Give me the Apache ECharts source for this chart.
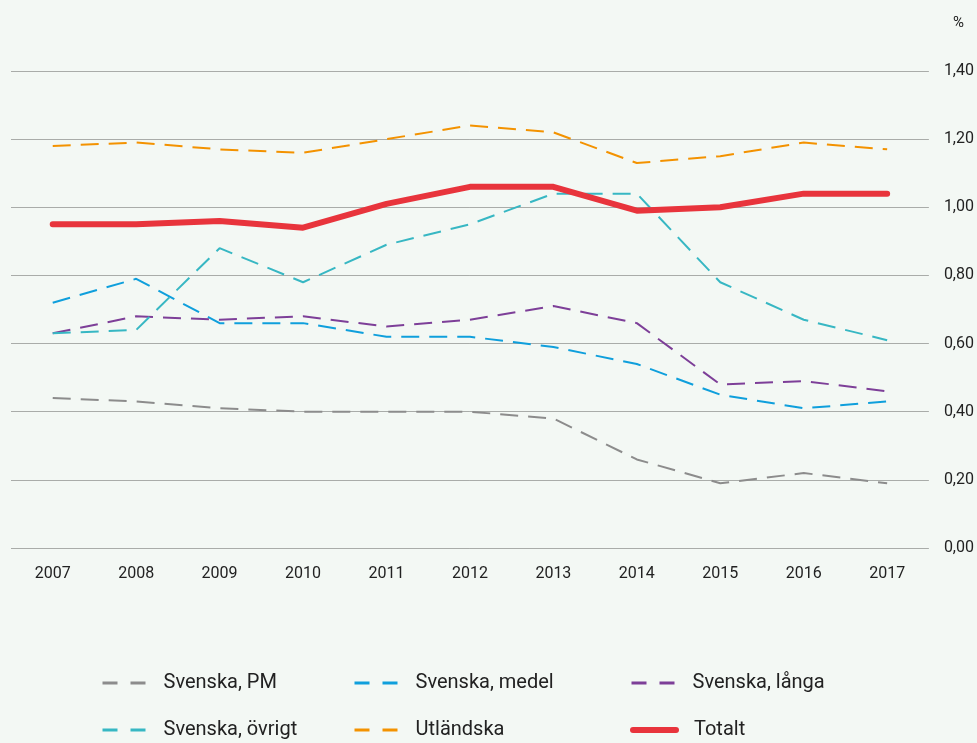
<!DOCTYPE html>
<html>
<head>
<meta charset="utf-8">
<script src="https://cdn.jsdelivr.net/npm/echarts@6/dist/echarts.min.js"></script>
<style>
  html, body { margin: 0; padding: 0; background: #f3f8f4; }
  #chart { width: 977px; height: 743px; }
</style>
</head>
<body>
<div id="chart"></div>
<script>
const years = ['2007', '2008', '2009', '2010', '2011', '2012', '2013', '2014', '2015', '2016', '2017'];
const svenskaPM = [0.44, 0.43, 0.41, 0.40, 0.40, 0.40, 0.38, 0.26, 0.19, 0.22, 0.19];
const svenskaMedel = [0.72, 0.79, 0.66, 0.66, 0.62, 0.62, 0.59, 0.54, 0.45, 0.41, 0.43];
const svenskaLanga = [0.63, 0.68, 0.67, 0.68, 0.65, 0.67, 0.71, 0.66, 0.48, 0.49, 0.46];
const svenskaOvrigt = [0.63, 0.64, 0.88, 0.78, 0.89, 0.95, 1.04, 1.04, 0.78, 0.67, 0.61];
const utlandska = [1.18, 1.19, 1.17, 1.16, 1.20, 1.24, 1.22, 1.13, 1.15, 1.19, 1.17];
const totalt = [0.95, 0.95, 0.96, 0.94, 1.01, 1.06, 1.06, 0.99, 1.00, 1.04, 1.04];

const FONT = 'Roboto, "Noto Sans", sans-serif';

const dashed = (name, data, color) => ({
    name,
    type: 'line',
    data,
    symbol: 'none',
    lineStyle: { color, width: 2, type: [18, 10] },
    itemStyle: { color },
    emphasis: { disabled: true }
});

// one legend per item so the two rows / three columns can be placed like the original
const legendAt = (name, left, top, solid) => ({
    data: [name],
    left,
    top,
    padding: 0,
    itemWidth: 43,
    itemHeight: 14,
    itemStyle: { opacity: 0 },
    lineStyle: solid ? { width: 6, type: 'solid', cap: 'round' } : { width: 3, type: [15, 13] },
    textStyle: { fontFamily: FONT, fontSize: 20, color: '#222', padding: [0, 0, 0, 13] }
});

const chart = echarts.init(document.getElementById('chart'));
chart.setOption({
    backgroundColor: '#f3f8f4',
    animation: false,
    textStyle: { fontFamily: FONT },
    grid: { left: 11, right: 48, top: 71, bottom: 195 },
    legend: [
        legendAt('Svenska, PM', 101, 673),
        legendAt('Svenska, medel', 353, 673),
        legendAt('Svenska, långa', 630, 673),
        legendAt('Svenska, övrigt', 101, 720),
        legendAt('Utländska', 353, 720),
        legendAt('Totalt', 630, 720, true)
    ],
    xAxis: {
        type: 'category',
        data: years,
        boundaryGap: true,
        axisLine: { show: false },
        axisTick: { show: false },
        axisLabel: { color: '#222', fontSize: 16, margin: 18, fontFamily: FONT }
    },
    yAxis: {
        type: 'value',
        position: 'right',
        min: 0,
        max: 1.4,
        interval: 0.2,
        name: '%',
        nameLocation: 'end',
        nameGap: 40,
        nameTextStyle: { color: '#222', fontSize: 15, fontFamily: FONT, align: 'left', padding: [0, 0, 0, 24] },
        axisLine: { show: false },
        axisTick: { show: false },
        splitLine: { lineStyle: { color: '#a9aca9', width: 1 } },
        axisLabel: {
            color: '#222',
            fontSize: 16,
            margin: 15,
            fontFamily: FONT,
            formatter: v => v.toFixed(2).replace('.', ',')
        }
    },
    series: [
        dashed('Svenska, PM', svenskaPM, '#8c8c8c'),
        dashed('Svenska, medel', svenskaMedel, '#0f9fdc'),
        dashed('Svenska, långa', svenskaLanga, '#7d3f98'),
        dashed('Svenska, övrigt', svenskaOvrigt, '#37b7c3'),
        dashed('Utländska', utlandska, '#f39200'),
        {
            name: 'Totalt',
            type: 'line',
            data: totalt,
            symbol: 'none',
            lineStyle: { color: '#e8343c', width: 6, cap: 'round' },
            itemStyle: { color: '#e8343c' },
            emphasis: { disabled: true },
            z: 5
        }
    ]
});
</script>
</body>
</html>
